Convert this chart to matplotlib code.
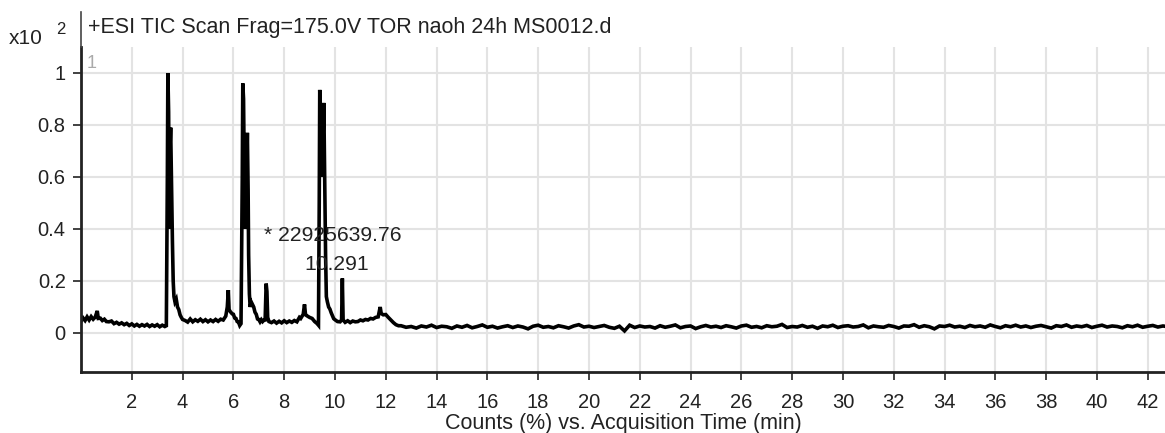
# TIC-Chromatogramm nachzeichnen
import numpy as np
import matplotlib.pyplot as plt
from matplotlib.lines import Line2D

plt.rcParams['font.family'] = ['Liberation Sans', 'DejaVu Sans']

# Daten: Peakbereich (Zeit in min, Counts x10^2)
zeit_peaks = [
    0.00, 0.08, 0.16, 0.24, 0.32, 0.40, 0.48, 0.56, 0.64, 0.68, 0.76, 0.84, 0.92, 1.00,
    1.10, 1.20, 1.30, 1.40, 1.50, 1.60, 1.70, 1.80, 1.90, 2.00, 2.10, 2.20, 2.30, 2.40,
    2.50, 2.60, 2.70, 2.80, 2.90, 3.00, 3.10, 3.20, 3.30, 3.36,
    3.40, 3.42, 3.45, 3.48, 3.50, 3.53, 3.56, 3.60, 3.63, 3.66, 3.70, 3.75, 3.80, 3.85,
    3.90, 3.95, 4.00, 4.10, 4.20, 4.30, 4.40, 4.50, 4.60, 4.70, 4.80, 4.90, 5.00, 5.10,
    5.20, 5.30, 5.40, 5.50, 5.60, 5.70, 5.76, 5.80, 5.83, 5.88, 5.95, 6.00, 6.05, 6.10,
    6.15, 6.20, 6.25, 6.30,
    6.35, 6.37, 6.40, 6.43, 6.46, 6.50, 6.55, 6.58, 6.60, 6.63, 6.66, 6.70, 6.75, 6.80,
    6.85, 6.90, 6.95, 7.00, 7.05, 7.10, 7.15, 7.20, 7.25, 7.29, 7.32, 7.35, 7.40, 7.50,
    7.60, 7.70, 7.80, 7.90, 8.00, 8.10, 8.20, 8.30, 8.40, 8.50, 8.60, 8.65, 8.75, 8.80,
    8.84, 8.90, 9.00, 9.10, 9.20, 9.30, 9.35,
    9.38, 9.40, 9.44, 9.48, 9.52, 9.56, 9.60, 9.63, 9.66, 9.70, 9.75, 9.80, 9.85, 9.90,
    9.95, 10.00, 10.10, 10.20, 10.26, 10.29, 10.32, 10.40, 10.50, 10.60, 10.70, 10.80,
    10.90, 11.00, 11.10, 11.20, 11.30, 11.40, 11.50, 11.60, 11.70, 11.78, 11.82, 11.90,
    12.00, 12.10, 12.20, 12.30, 12.40, 12.50,
]
counts_peaks = [
    0.045, 0.058, 0.048, 0.062, 0.050, 0.063, 0.053, 0.061, 0.085, 0.056, 0.057, 0.048, 0.053, 0.044,
    0.043, 0.046, 0.036, 0.041, 0.034, 0.039, 0.032, 0.037, 0.029, 0.035, 0.027, 0.033, 0.026, 0.032,
    0.027, 0.033, 0.025, 0.031, 0.026, 0.032, 0.024, 0.030, 0.025, 0.028,
    0.600, 1.000, 0.850, 0.400, 0.700, 0.790, 0.600, 0.350, 0.200, 0.140, 0.120, 0.130, 0.100, 0.090,
    0.070, 0.060, 0.052, 0.048, 0.042, 0.054, 0.043, 0.051, 0.045, 0.053, 0.044, 0.051, 0.043, 0.050,
    0.044, 0.052, 0.045, 0.053, 0.050, 0.065, 0.100, 0.165, 0.090, 0.082, 0.074, 0.072, 0.058, 0.056,
    0.044, 0.042, 0.029, 0.036,
    0.600, 0.960, 0.900, 0.600, 0.400, 0.500, 0.770, 0.550, 0.300, 0.150, 0.100, 0.120, 0.110, 0.100,
    0.080, 0.072, 0.054, 0.052, 0.043, 0.051, 0.044, 0.049, 0.050, 0.190, 0.160, 0.060, 0.044, 0.040,
    0.046, 0.038, 0.045, 0.039, 0.047, 0.040, 0.046, 0.041, 0.048, 0.043, 0.060, 0.056, 0.072, 0.110,
    0.070, 0.066, 0.060, 0.056, 0.044, 0.036, 0.030,
    0.500, 0.935, 0.800, 0.600, 0.700, 0.885, 0.540, 0.300, 0.140, 0.120, 0.100, 0.092, 0.078, 0.066,
    0.055, 0.051, 0.044, 0.043, 0.050, 0.210, 0.050, 0.041, 0.047, 0.040, 0.046, 0.043,
    0.044, 0.050, 0.047, 0.052, 0.050, 0.056, 0.054, 0.060, 0.062, 0.100, 0.075, 0.070,
    0.071, 0.060, 0.050, 0.040, 0.032, 0.028,
]

# Daten: Grundlinie ab 12.6 min, Abstand 0.2 min
grundlinie_start = 12.6
grundlinie_schritt = 0.2
counts_grundlinie = [
    0.028, 0.022, 0.025, 0.019, 0.027, 0.023, 0.030, 0.021, 0.026, 0.024,
    0.018, 0.027, 0.022, 0.029, 0.020, 0.025, 0.031, 0.022, 0.026, 0.019,
    0.024, 0.028, 0.021, 0.027, 0.023, 0.016, 0.026, 0.030, 0.022, 0.025,
    0.020, 0.028, 0.024, 0.019, 0.027, 0.032, 0.023, 0.026, 0.021, 0.025,
    0.029, 0.022, 0.018, 0.026, 0.008, 0.030, 0.021, 0.027, 0.023, 0.025,
    0.019, 0.028, 0.022, 0.026, 0.031, 0.020, 0.025, 0.027, 0.017, 0.024,
    0.029, 0.023, 0.026, 0.021, 0.028, 0.024, 0.019, 0.027, 0.030, 0.022,
    0.025, 0.020, 0.028, 0.024, 0.026, 0.033, 0.021, 0.025, 0.023, 0.029,
    0.022, 0.026, 0.018, 0.027, 0.024, 0.030, 0.021, 0.026, 0.028, 0.023,
    0.025, 0.031, 0.020, 0.027, 0.024, 0.022, 0.029, 0.025, 0.019, 0.027,
    0.026, 0.032, 0.022, 0.028, 0.024, 0.016, 0.027, 0.025, 0.030, 0.023,
    0.026, 0.021, 0.029, 0.024, 0.027, 0.022, 0.031, 0.025, 0.020, 0.028,
    0.024, 0.030, 0.023, 0.027, 0.021, 0.026, 0.029, 0.024, 0.019, 0.028,
    0.025, 0.031, 0.022, 0.027, 0.024, 0.029, 0.021, 0.026, 0.030, 0.023,
    0.027, 0.025, 0.020, 0.028, 0.024, 0.030, 0.022, 0.026, 0.029, 0.023,
    0.027, 0.024,
]

x_ticks = list(range(2, 43, 2))
y_ticks = [0, 0.2, 0.4, 0.6, 0.8, 1.0]
y_tick_labels = ['0', '0.2', '0.4', '0.6', '0.8', '1']

titel = '+ESI TIC Scan Frag=175.0V TOR naoh 24h MS0012.d'
peak_flaeche = '* 22925639.76'
peak_zeit = 10.291

zeit_grundlinie = grundlinie_start + grundlinie_schritt * np.arange(len(counts_grundlinie))
zeit = np.concatenate([zeit_peaks, zeit_grundlinie])
counts = np.concatenate([counts_peaks, counts_grundlinie])

textfarbe = '#222222'
fig = plt.figure(figsize=(11.65, 4.33), dpi=100)
ax = fig.add_axes([81 / 1165, 61 / 433, 1 - 81 / 1165, 325 / 433])

ax.plot(zeit, counts, color='black', lw=2.6, solid_joinstyle='miter')

ax.set_xlim(0, 42.68)
ax.set_ylim(-0.15, 1.1)
ax.set_xticks(x_ticks)
ax.set_yticks(y_ticks)
ax.set_yticklabels(y_tick_labels)
ax.tick_params(axis='x', pad=9)
ax.tick_params(labelsize=14.5, colors=textfarbe, length=6, width=1.2)
ax.tick_params(axis='y', pad=5)
ax.grid(True, color='#e3e3e3', lw=1.5)
ax.set_axisbelow(True)
for s in ['top', 'right']:
    ax.spines[s].set_visible(False)
for s in ['left', 'bottom']:
    ax.spines[s].set_color('#222222')
    ax.spines[s].set_linewidth(2)

ax.set_xlabel('Counts (%) vs. Acquisition Time (min)', fontsize=15.5, color=textfarbe, labelpad=1)

# Annotation am Peak
ax.text(9.93, 0.376, peak_flaeche, ha='center', va='center', fontsize=15.2, color=textfarbe)
ax.text(10.07, 0.262, f'{peak_zeit:.3f}', ha='center', va='center', fontsize=15.2, color=textfarbe)

# Kopfzeile
fig.text(88 / 1165, 1 - 27 / 433, titel, ha='left', va='center', fontsize=15.5, color=textfarbe)
fig.text(9 / 1165, 1 - 38 / 433, 'x10', ha='left', va='center', fontsize=15, color=textfarbe)
fig.text(56 / 1165, 1 - 30 / 433, '2', ha='left', va='center', fontsize=12, color=textfarbe)
fig.text(87 / 1165, 1 - 64 / 433, '1', ha='left', va='center', fontsize=13, color='#aaaaaa')
fig.add_artist(Line2D([81 / 1165, 81 / 1165], [1 - 47 / 433, 1 - 12 / 433],
                      color='#444444', lw=1.2, transform=fig.transFigure))

fig.savefig('out.png', dpi=100)
